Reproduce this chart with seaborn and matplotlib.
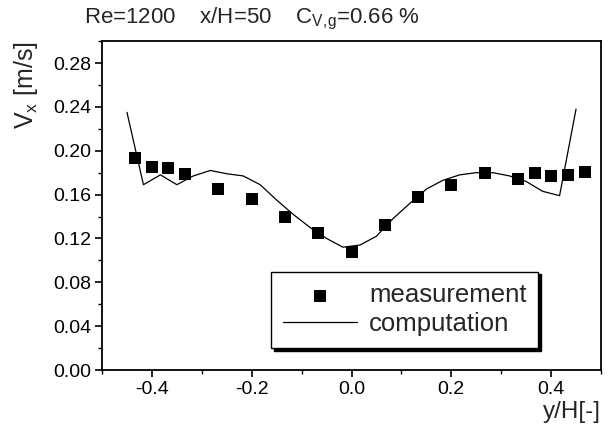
import numpy as np
import pandas as pd
import matplotlib
matplotlib.use("Agg")
import matplotlib.pyplot as plt
from matplotlib.ticker import MultipleLocator
import seaborn as sns

# ================================================================
# DATA
# ================================================================
meas_y = [-0.433, -0.400, -0.367, -0.333, -0.267, -0.200, -0.133, -0.067, 0.000,
          0.067, 0.133, 0.200, 0.267, 0.333, 0.367, 0.400, 0.433, 0.467]
meas_v = [0.193, 0.185, 0.184, 0.179, 0.165, 0.156, 0.140, 0.125, 0.108,
          0.132, 0.158, 0.169, 0.180, 0.174, 0.180, 0.177, 0.178, 0.181]

comp_y = [-0.450, -0.417, -0.383, -0.350, -0.317, -0.283, -0.250, -0.217, -0.183,
          -0.150, -0.117, -0.083, -0.050, -0.017, 0.017, 0.050, 0.083, 0.117,
          0.150, 0.183, 0.217, 0.250, 0.283, 0.317, 0.350, 0.383, 0.417, 0.450]
comp_v = [0.235, 0.169, 0.178, 0.169, 0.177, 0.182, 0.179, 0.177, 0.169,
          0.155, 0.142, 0.130, 0.120, 0.112, 0.114, 0.122, 0.138, 0.152,
          0.165, 0.173, 0.178, 0.180, 0.180, 0.177, 0.172, 0.163, 0.159, 0.238]

x_ticks = [-0.4, -0.2, 0.0, 0.2, 0.4]
y_ticks = [0.00, 0.04, 0.08, 0.12, 0.16, 0.20, 0.24, 0.28]

# ================================================================
# STYLE
# ================================================================
sns.set_style("ticks")
plt.rcParams["font.family"] = ["Liberation Sans", "DejaVu Sans"]
plt.rcParams["axes.unicode_minus"] = False

meas = pd.DataFrame({"y": meas_y, "v": meas_v})
comp = pd.DataFrame({"y": comp_y, "v": comp_v})

fig = plt.figure(figsize=(6.12, 4.28), dpi=100)
ax = fig.add_axes([0.1667, 0.1355, 0.8153, 0.7685])

sns.lineplot(data=comp, x="y", y="v", ax=ax, color="black", linewidth=0.9,
             label="computation", sort=False)
sns.scatterplot(data=meas, x="y", y="v", ax=ax, color="black", marker="s",
                s=64, edgecolor="black", linewidth=0, label="measurement", zorder=3)

ax.set_xlim(-0.5, 0.5)
ax.set_ylim(0.0, 0.30)
ax.set_xticks(x_ticks)
ax.set_yticks(y_ticks)
ax.set_xticklabels([f"{t:.1f}" for t in x_ticks])
ax.set_yticklabels([f"{t:.2f}" for t in y_ticks])
ax.xaxis.set_minor_locator(MultipleLocator(0.1))
ax.yaxis.set_minor_locator(MultipleLocator(0.02))
ax.tick_params(which="major", direction="out", length=5, width=1.2,
               labelsize=14, color="black", labelcolor="black", pad=3)
ax.tick_params(which="minor", direction="out", length=3, width=1.0, color="black")
ax.tick_params(top=False, right=False)

for sp in ax.spines.values():
    sp.set_visible(True)
    sp.set_color("black")
    sp.set_linewidth(1.3)

ax.set_xlabel("y/H[-]", fontsize=17.5, loc="right", labelpad=2)
ax.set_ylabel(r"V$_\mathregular{x}$ [m/s]", fontsize=18, loc="top", labelpad=9)

fig.text(0.138, 0.946, r"Re=1200    x/H=50    C$_\mathregular{V,\!g}$=0.66 %",
         fontsize=16, ha="left", va="baseline")

# legend: measurement first
handles, labels = ax.get_legend_handles_labels()
order = [labels.index("measurement"), labels.index("computation")]
leg = ax.legend([handles[i] for i in order], [labels[i] for i in order],
                loc="lower right", bbox_to_anchor=(0.874, 0.067),
                fontsize=18.5, frameon=True, fancybox=False, framealpha=1,
                edgecolor="black", handlelength=2.9, handletextpad=0.45,
                borderpad=0.45, labelspacing=0.2, borderaxespad=0,
                shadow={"color": "black", "alpha": 1})
leg.get_frame().set_linewidth(1.0)

fig.savefig("out.png", dpi=100)
